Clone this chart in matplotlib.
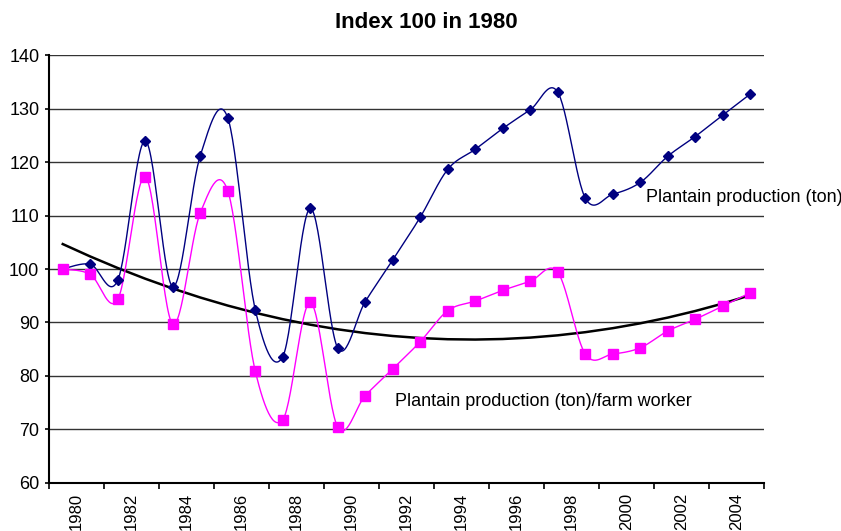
import matplotlib.pyplot as plt
import numpy as np

plt.rcParams['font.family'] = ['Liberation Sans', 'DejaVu Sans']

years = list(range(1980, 2006))
production = [100, 100.9, 97.9, 124.0, 96.7, 121.2, 128.3, 92.4, 83.6, 111.35,
              85.2, 93.9, 101.7, 109.7, 118.65, 122.4, 126.3, 129.8, 133.1, 113.3,
              114.0, 116.2, 121.1, 124.8, 128.8, 132.75]
per_worker = [100, 99.0, 94.3, 117.3, 89.7, 110.5, 114.65, 80.9, 71.8, 93.75,
              70.4, 76.3, 81.3, 86.4, 92.2, 94.0, 96.0, 97.7, 99.4, 84.1,
              84.1, 85.25, 88.4, 90.6, 93.05, 95.55]
tick_years = years[::2][:13]


def smooth(xs, ys, n=30):
    # Excel-like smoothed line: Catmull-Rom as cubic Bezier segments
    p = np.column_stack([xs, ys]).astype(float)
    p = np.vstack([p[0], p, p[-1]])
    out = []
    t = np.linspace(0, 1, n)[:, None]
    for i in range(1, len(p) - 2):
        p0, p3 = p[i], p[i + 1]
        c1 = p0 + (p[i + 1] - p[i - 1]) / 6
        c2 = p3 - (p[i + 2] - p[i]) / 6
        seg = ((1 - t) ** 3) * p0 + 3 * ((1 - t) ** 2) * t * c1 + 3 * (1 - t) * t ** 2 * c2 + t ** 3 * p3
        out.append(seg if i == 1 else seg[1:])
    seg = np.vstack(out)
    return seg[:, 0], seg[:, 1]


x = np.arange(len(years))

fig = plt.figure(figsize=(8.41, 5.31), dpi=100)
ax = fig.add_axes([49 / 841, 1 - 482.7 / 531, 715 / 841, (482.7 - 55.3) / 531])

ax.set_xlim(-0.5, len(years) - 0.5)
ax.set_ylim(60, 140)
ax.set_yticks(range(60, 141, 10))
ax.grid(axis='y', color='#333333', lw=1.0)
ax.set_axisbelow(True)

# polynomial trend on the per-worker series
coef = np.polyfit(x, per_worker, 2)
ax.plot(x, np.polyval(coef, x), color='black', lw=1.8, zorder=3)

sx, sy = smooth(x, production)
ax.plot(sx, sy, color='#000080', lw=1.0, zorder=4)
ax.plot(x, production, ls='none', marker='D', ms=5, color='#000080', zorder=5)

sx, sy = smooth(x, per_worker)
ax.plot(sx, sy, color='#FF00FF', lw=1.0, zorder=4)
ax.plot(x, per_worker, ls='none', marker='s', ms=7, color='#FF00FF', zorder=5)

for s in ['top', 'right']:
    ax.spines[s].set_visible(False)
ax.spines['left'].set_linewidth(1.5)
ax.spines['bottom'].set_linewidth(1.5)

ax.set_xticks(np.arange(-0.5, len(years), 2))
ax.set_xticklabels([])
ax.tick_params(axis='x', which='major', length=4, width=1.2)
ax.set_xticks(np.arange(0.5, len(years), 2)[:13], minor=True)
ax.set_xticklabels([str(y) for y in tick_years], minor=True, rotation=90, fontsize=12)
ax.tick_params(axis='x', which='minor', length=0, pad=7)
ax.tick_params(axis='y', length=3, width=1.2, labelsize=13, pad=4)

ax.text(646 / 841, 1 - 197 / 531, 'Plantain production (ton)', transform=fig.transFigure,
        fontsize=13, va='center', ha='left')
ax.text(395 / 841, 1 - 402 / 531, 'Plantain production (ton)/farm worker', transform=fig.transFigure,
        fontsize=13, va='center', ha='left')

fig.text(426 / 841, 1 - 22 / 531, 'Index 100 in 1980', fontsize=16, fontweight='bold',
         ha='center', va='center')

fig.savefig('out.png', dpi=100)
